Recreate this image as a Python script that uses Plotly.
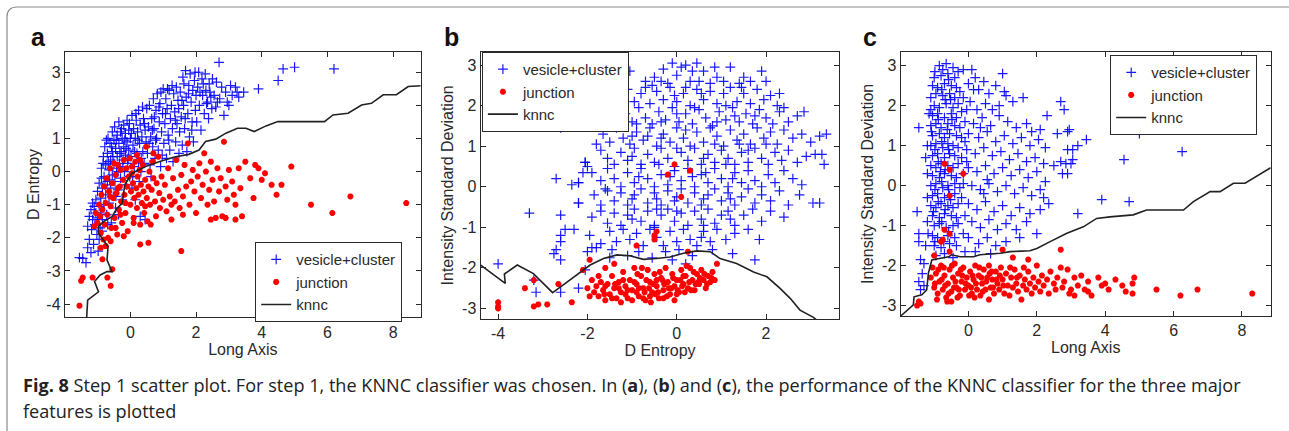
import plotly.graph_objects as go

# ---- panel a : Long Axis vs D Entropy ----
a_vesicle = [
    (-1.55,-2.6),(-1.45,-2.62),(-1.35,-2.75),(-1.3,-2.3),(-1.25,-2.05),(-1.2,-2.45),(-1.18,-1.75),(-1.15,-1.45),
    (-1.12,-2.2),(-1.1,-1.05),(-1.08,-1.6),(-1.05,-1.25),(-1.05,-0.85),(-1.02,-1.9),(-1.0,-0.6),(-1.0,-1.4),
    (-0.98,-2.4),(-0.95,-1.05),(-0.95,-0.35),(-0.92,-1.7),(-0.9,-0.8),(-0.9,-1.25),(-1.25,-1.35),(-1.15,-0.95),
    (-1.3,-1.65),(-1.2,-1.15),(-0.95,-2.05),
    (-0.88,0.1),(-0.85,-0.5),(-0.85,-1.45),(-0.82,0.45),(-0.8,-0.15),(-0.8,-1.0),(-0.78,0.75),(-0.75,0.2),
    (-0.75,-0.7),(-0.72,-1.3),(-0.7,0.55),(-0.7,-0.3),(-0.68,1.0),(-0.65,0.05),(-0.65,-0.95),(-0.62,0.85),
    (-0.6,0.35),(-0.6,-0.5),(-0.58,-1.55),(-0.55,1.2),(-0.55,0.6),(-0.55,-0.1),(-0.52,-0.75),(-0.5,0.95),
    (-0.5,0.25),(-0.88,-0.2),(-0.83,0.25),(-0.77,-0.4),(-0.73,0.95),(-0.67,0.3),(-0.63,-0.25),(-0.57,0.75),
    (-0.53,0.45),(-0.69,-1.6),(-0.86,-1.8),
    (-0.48,1.35),(-0.47,-0.3),(-0.45,0.7),(-0.45,-1.1),(-0.42,0.1),(-0.4,1.1),(-0.4,0.45),(-0.38,-0.55),
    (-0.35,1.5),(-0.35,0.85),(-0.33,0.25),(-0.3,-0.2),(-0.3,1.2),(-0.28,0.6),(-0.25,-0.85),(-0.25,1.0),
    (-0.22,0.35),(-0.2,1.4),(-0.2,0.75),(-0.18,0.0),(-0.15,1.15),(-0.15,0.5),(-0.12,-0.4),(-0.1,0.9),
    (-0.1,1.55),(-0.08,0.25),(-0.05,1.25),(-0.05,0.65),(-0.02,-0.15),(0.0,1.0),(-0.43,0.95),(-0.37,0.0),
    (-0.32,0.55),(-0.27,1.3),(-0.23,0.15),(-0.17,0.95),(-0.13,0.7),(-0.07,0.4),(-0.03,1.45),(-0.44,-0.75),
    (-0.36,-1.3),
    (0.02,0.45),(0.05,1.7),(0.05,-0.5),(0.08,0.8),(0.1,1.3),(0.12,0.15),(0.15,1.0),(0.15,-0.85),(0.18,1.55),
    (0.2,0.55),(0.22,1.2),(0.25,0.3),(0.25,1.85),(0.28,0.85),(0.3,-1.35),(0.3,1.4),(0.32,0.0),(0.35,1.05),
    (0.38,0.6),(0.4,1.6),(0.42,0.25),(0.45,1.25),(0.45,-1.45),(0.48,0.9),(0.5,1.9),(0.03,1.15),(0.13,0.6),
    (0.23,0.95),(0.33,0.4),(0.43,1.45),(0.07,-0.15),(0.17,1.75),(0.37,1.95),(0.27,-0.3),
    (0.52,0.55),(0.55,1.35),(0.58,2.0),(0.6,0.2),(0.62,1.05),(0.65,1.6),(0.68,0.75),(0.7,2.2),(0.72,1.3),
    (0.75,0.4),(0.78,1.85),(0.8,1.0),(0.82,2.35),(0.85,0.65),(0.88,1.5),(0.9,2.05),(0.92,0.15),(0.95,1.2),
    (0.98,1.75),(1.0,2.5),(0.57,0.85),(0.67,1.25),(0.77,0.95),(0.87,1.95),(0.97,0.5),(0.63,-0.15),(0.73,1.65),
    (0.93,2.4),
    (1.02,0.85),(1.05,1.45),(1.08,2.2),(1.1,0.4),(1.12,1.9),(1.15,1.1),(1.18,2.45),(1.2,0.65),(1.22,1.6),
    (1.25,2.0),(1.28,1.3),(1.3,0.3),(1.32,2.35),(1.35,1.8),(1.38,0.9),(1.4,2.55),(1.42,1.45),(1.45,2.15),
    (1.48,0.55),(1.5,1.2),(1.07,1.75),(1.17,0.95),(1.27,2.6),(1.37,1.55),(1.47,1.9),(1.13,2.5),
    (1.52,2.4),(1.55,1.65),(1.58,0.8),(1.6,2.85),(1.62,2.0),(1.65,1.3),(1.68,3.05),(1.7,2.25),(1.72,0.6),
    (1.75,1.75),(1.78,2.6),(1.8,1.05),(1.82,2.95),(1.85,2.1),(1.88,1.5),(1.9,2.45),(1.92,0.9),(1.95,2.75),
    (1.98,1.85),(2.0,2.3),(1.57,2.15),(1.67,1.6),(1.77,2.35),(1.87,1.25),(1.97,3.0),(1.63,2.65),
    (2.02,1.5),(2.05,2.55),(2.08,3.0),(2.1,2.0),(2.15,1.25),(2.18,2.8),(2.2,2.3),(2.25,1.75),(2.28,2.95),
    (2.3,2.45),(2.35,2.1),(2.38,1.6),(2.4,2.65),(2.45,2.25),(2.48,1.9),(2.5,2.8),(2.12,2.4),(2.22,2.65),
    (2.32,2.05),(2.42,2.4),
    (2.55,2.3),(2.6,1.95),(2.62,2.7),(2.7,3.3),(2.72,2.2),(2.78,2.55),(2.85,1.7),(2.9,2.4),(2.95,2.1),
    (3.05,2.6),(3.1,2.3),(3.2,2.55),(3.25,2.4),(3.3,2.25),(3.45,2.4),(2.65,2.1),(3.0,2.0),
    (3.9,2.5),(4.5,2.75),(4.65,3.1),(5.0,3.15),(6.2,3.1),
]
a_junction = [
    (-1.55,-4.05),(-1.5,-3.3),(-1.45,-3.2),(-1.15,-3.2),(-0.7,-3.2),(-0.55,-2.95),(-0.6,-3.45),(-0.85,-2.65),
    (-1.05,-1.25),(-1.0,-1.55),(-0.95,-1.0),(-0.92,-1.35),(-0.9,-1.85),(-0.88,-0.7),(-0.85,-1.15),(-0.82,-2.05),
    (-0.8,-0.45),(-0.78,-1.6),(-0.75,-0.95),(-0.72,-0.2),(-0.7,-1.3),(-0.68,-2.0),(-0.65,-0.6),(-0.62,0.1),
    (-0.6,-1.05),(-0.58,-1.7),(-0.55,-0.35),(-0.52,-0.8),(-0.5,0.25),(-0.48,-1.4),(-0.45,-0.1),(-0.42,-0.65),
    (-0.4,-1.9),(-0.38,0.2),(-0.35,-1.15),(-0.32,-0.45),(-0.3,0.05),(-0.28,-0.9),(-0.25,-1.55),(-0.22,-0.25),
    (-0.2,0.35),(-0.18,-0.7),(-0.15,-1.25),(-0.12,0.1),(-0.1,-0.45),(-0.08,-1.8),(-0.05,-0.15),(-0.02,0.4),
    (0.0,-1.0),(0.02,-0.6),(0.05,0.15),(0.08,-0.35),(0.1,-1.4),(0.12,-0.8),(0.15,0.3),(0.18,-0.5),(0.2,-1.1),
    (0.22,-0.15),(0.25,-0.7),(0.28,0.05),(0.3,-1.6),(0.32,-0.4),(0.35,-0.95),(0.38,0.2),(0.4,-0.6),(0.42,-1.25),
    (0.45,-0.25),(0.48,0.75),(0.5,-0.8),(0.52,-1.5),(0.55,-0.45),(0.58,0.0),(0.6,-1.0),(0.62,-1.6),(0.65,-0.55),
    (0.68,0.3),(0.7,-0.2),(0.75,-0.9),(0.78,-1.35),(0.8,-0.35),(0.85,0.45),(0.88,-0.65),(0.9,-1.1),(0.95,-0.15),
    (1.0,-0.85),(-0.75,-2.25),(-0.6,-2.1),(-0.9,-2.3),(-0.45,-1.7),(-0.2,-1.95),(0.1,-1.55),(-1.1,-1.65),
    (-0.3,-1.3),(0.3,0.35),(0.05,-0.05),(-0.62,-0.75),(-0.38,-0.5),(0.2,0.5),(0.7,0.55),(-0.15,-0.95),(0.45,-1.05),
    (1.05,-0.4),(1.1,-1.2),(1.15,0.1),(1.2,-0.75),(1.25,-1.45),(1.3,-0.2),(1.35,-0.9),(1.4,0.35),(1.45,-0.55),
    (1.5,-1.1),(1.55,-0.1),(1.6,-0.75),(1.65,0.2),(1.7,-0.45),(1.75,0.85),(1.8,-1.0),(1.85,-0.3),(1.9,0.05),
    (1.95,-0.6),(2.0,-1.25),(2.05,-0.15),(2.1,0.25),(2.15,-0.8),(2.2,-0.4),(2.3,0.0),(2.35,-1.0),(2.4,-0.55),
    (2.45,0.3),(2.5,-0.25),(2.55,-0.9),(2.6,-1.4),(2.65,0.1),(2.7,-0.6),(2.75,-0.2),(2.8,-1.35),(2.85,0.9),
    (2.9,-0.45),(2.95,-0.85),(3.0,0.05),(3.1,-0.3),(3.15,-0.7),(3.2,-1.0),(3.3,0.1),(3.35,-0.5),(3.4,-1.35),
    (3.5,0.3),(3.65,-0.2),(3.75,-0.8),(3.8,0.2),(3.9,0.1),(4.0,-0.25),(4.1,-0.05),(4.3,-0.4),(4.45,-0.7),
    (4.6,-0.4),(4.9,0.15),(2.25,0.55),(1.55,-2.4),(0.3,-2.2),(0.55,-2.15),(5.5,-1.0),(6.15,-1.25),(6.7,-0.75),
    (8.4,-0.95),(3.2,-1.45),(2.9,-1.4),(2.45,-1.45),(1.6,-1.3),(1.25,-1.0),
]
a_knnc_x = [-1.33,-1.30,-0.97,-1.09,-0.92,-0.71,-0.56,-0.71,-0.68,-0.82,-0.97,-0.97,-0.82,-0.56,-0.41,-0.25,
            -0.20,-0.17,0.05,0.46,0.87,1.38,1.78,2.09,2.29,2.60,2.91,3.26,3.52,3.77,4.13,4.49,5.91,6.17,
            6.63,7.04,7.34,7.70,8.10,8.46,8.84]
a_knnc_y = [-4.4,-3.88,-3.63,-3.32,-3.12,-3.02,-3.02,-2.67,-2.27,-2.06,-1.86,-1.66,-1.51,-1.36,-1.11,-0.96,
            -0.65,-0.40,-0.05,0.15,0.30,0.45,0.52,0.65,0.91,0.98,1.16,1.31,1.31,1.21,1.38,1.51,1.51,1.71,
            1.76,2.01,2.06,2.32,2.32,2.57,2.59]

# ---- panel b : D Entropy vs Intensity Standard Deviation ----
b_vesicle = [
    (-2.6,1.45),(-3.3,-0.65),(-2.7,0.2),(-2.6,-0.7),(-2.5,-1.05),(-2.6,-1.2),(-2.6,-1.35),(-2.7,-1.55),
    (-2.6,-1.8),(-2.6,-2.6),(-2.75,-1.65),(-4.0,-1.9),(-3.2,-2.3),(-3.15,-2.6),(-2.3,-1.05),(-2.2,-0.4),
    (-2.2,0.1),(-2.1,0.35),(-2.05,0.6),(-2.0,0.5),(-1.9,-1.5),(-2.0,-1.6),(-1.8,-1.5),(-2.2,-2.5),(-2.35,0.05),
    (-1.95,-1.2),(-2.05,-2.05),
    (-0.5,2.7),(-0.3,2.9),(-0.1,3.05),(0.0,2.75),(0.1,2.95),(0.2,3.0),(0.35,2.85),(0.5,2.6),(0.6,2.85),
    (0.75,2.55),(0.9,2.7),(1.05,2.6),(1.2,2.95),(1.4,2.55),(1.65,2.6),(1.9,2.85),(2.0,2.6),(-0.7,2.6),
    (-0.55,2.5),(-1.05,2.85),(-0.2,2.55),(0.3,2.6),(0.45,3.05),(-0.35,2.6),(0.85,2.95),(1.5,2.7),
    (-1.3,2.15),(-1.1,2.4),(-0.95,2.1),(-0.8,2.3),(-0.6,2.05),(-0.45,2.35),(-0.3,2.15),(-0.15,2.45),(0.0,2.1),
    (0.15,2.3),(0.3,2.0),(0.45,2.4),(0.6,2.15),(0.75,2.35),(0.9,2.05),(1.05,2.3),(1.2,2.45),(1.35,2.1),
    (1.5,2.3),(1.65,2.05),(1.8,2.4),(1.95,2.15),(2.1,2.25),(2.25,2.0),(-0.7,2.45),(0.2,2.45),(1.1,2.0),
    (-1.5,2.3),(-0.05,2.25),(0.55,2.3),(1.45,2.45),(2.3,2.3),
    (-1.6,1.7),(-1.45,1.9),(-1.3,1.55),(-1.15,1.8),(-1.0,1.6),(-0.85,1.95),(-0.7,1.7),(-0.55,1.55),(-0.4,1.85),
    (-0.25,1.65),(-0.1,1.95),(0.05,1.6),(0.2,1.8),(0.35,1.55),(0.5,1.9),(0.65,1.7),(0.8,1.5),(0.95,1.85),
    (1.1,1.65),(1.25,1.95),(1.4,1.6),(1.55,1.8),(1.7,1.55),(1.85,1.9),(2.0,1.7),(2.15,1.55),(2.3,1.85),
    (2.5,1.6),(2.7,1.75),(2.85,1.85),(-0.9,1.55),(0.0,1.8),(0.9,1.6),(1.75,1.75),(-0.35,1.6),(0.4,1.95),
    (1.3,1.75),(2.4,1.95),
    (-1.8,1.05),(-1.65,1.3),(-1.5,1.1),(-1.35,1.45),(-1.2,1.2),(-1.05,1.05),(-0.9,1.35),(-0.75,1.15),(-0.6,1.45),
    (-0.45,1.0),(-0.3,1.3),(-0.15,1.1),(0.0,1.45),(0.15,1.2),(0.3,1.0),(0.45,1.35),(0.6,1.1),(0.75,1.45),
    (0.9,1.25),(1.05,1.0),(1.2,1.4),(1.35,1.15),(1.5,1.3),(1.65,1.05),(1.8,1.45),(1.95,1.2),(2.1,1.35),
    (2.25,1.05),(2.4,1.4),(2.6,1.2),(2.8,1.3),(3.0,1.1),(3.2,1.25),(-1.0,1.25),(0.2,1.4),(1.4,1.05),
    (-0.35,1.2),(0.85,1.05),(2.0,1.05),(-0.65,1.25),
    (-2.05,0.6),(-1.7,0.9),(-1.55,0.7),(-1.4,0.55),(-1.25,0.85),(-1.1,0.65),(-0.95,0.95),(-0.8,0.55),
    (-0.65,0.8),(-0.5,0.6),(-0.35,0.95),(-0.2,0.7),(-0.05,0.5),(0.1,0.85),(0.25,0.65),(0.4,0.95),(0.55,0.55),
    (0.7,0.8),(0.85,0.6),(1.0,0.9),(1.15,0.7),(1.3,0.55),(1.45,0.85),(1.6,0.6),(1.75,0.95),(1.9,0.7),
    (2.05,0.55),(2.2,0.85),(2.35,0.65),(2.5,0.9),(2.7,0.6),(2.9,0.75),(3.1,0.8),(3.3,0.55),(-1.0,0.75),
    (0.0,0.95),(1.1,0.55),(-0.4,0.55),(0.6,0.7),(1.6,0.9),
    (-2.2,0.1),(-1.9,0.35),(-1.7,0.15),(-1.55,0.45),(-1.4,0.2),(-1.25,0.0),(-1.1,0.35),(-0.95,0.1),(-0.8,0.45),
    (-0.65,0.2),(-0.5,0.0),(-0.35,0.3),(-0.2,0.05),(-0.05,0.4),(0.1,0.15),(0.25,0.45),(0.4,0.0),(0.55,0.3),
    (0.7,0.1),(0.85,0.45),(1.0,0.2),(1.15,0.0),(1.3,0.35),(1.45,0.1),(1.6,0.4),(1.75,0.15),(1.9,0.0),
    (2.05,0.3),(2.2,0.1),(2.4,0.4),(2.6,0.2),(2.8,0.05),(-1.6,-0.05),(-0.15,0.25),(0.65,0.35),(1.25,0.2),
    (-0.85,0.25),(0.35,0.25),
    (-2.2,-0.4),(-1.85,-0.2),(-1.7,-0.45),(-1.55,-0.1),(-1.4,-0.35),(-1.25,-0.15),(-1.1,-0.45),(-0.95,-0.2),
    (-0.8,-0.05),(-0.65,-0.4),(-0.5,-0.15),(-0.35,-0.45),(-0.2,-0.1),(-0.05,-0.35),(0.1,-0.05),(0.25,-0.4),
    (0.4,-0.15),(0.55,-0.45),(0.7,-0.2),(0.85,-0.05),(1.0,-0.35),(1.15,-0.15),(1.3,-0.45),(1.45,-0.25),
    (1.6,-0.05),(1.75,-0.4),(1.9,-0.2),(2.1,-0.35),(2.3,-0.1),(2.5,-0.45),(2.75,-0.2),(3.05,-0.4),(3.2,-0.4),
    (-1.0,-0.3),(0.0,-0.25),(0.6,-0.3),(1.2,-0.3),(-0.45,-0.3),
    (-1.9,-0.75),(-1.7,-0.6),(-1.55,-0.9),(-1.4,-0.65),(-1.25,-0.95),(-1.1,-0.7),(-0.95,-0.55),(-0.8,-0.85),
    (-0.65,-0.6),(-0.5,-0.95),(-0.35,-0.7),(-0.2,-0.55),(-0.05,-0.85),(0.1,-0.65),(0.25,-0.95),(0.4,-0.6),
    (0.55,-0.8),(0.7,-0.55),(0.85,-0.9),(1.0,-0.7),(1.15,-0.6),(1.3,-0.95),(1.5,-0.7),(1.7,-0.55),(1.9,-0.85),
    (2.1,-0.6),(2.4,-0.75),(-1.0,-0.8),(0.0,-0.6),(0.6,-0.95),(-0.45,-0.55),(1.2,-0.8),
    (-1.7,-1.4),(-1.5,-1.1),(-1.35,-1.35),(-1.2,-1.05),(-1.05,-1.3),(-0.9,-1.15),(-0.75,-1.45),(-0.6,-1.05),
    (-0.45,-1.25),(-0.3,-1.45),(-0.15,-1.1),(0.0,-1.35),(0.15,-1.05),(0.3,-1.3),(0.45,-1.45),(0.6,-1.1),
    (0.75,-1.35),(0.9,-1.05),(1.1,-1.3),(1.3,-1.15),(1.6,-1.05),(1.85,-1.3),(-0.5,-1.0),(0.55,-1.25),
    (-1.45,-1.55),(-1.1,-1.7),(-0.85,-1.6),(-0.55,-1.75),(-0.25,-1.6),(0.05,-1.55),(0.35,-1.7),(0.8,-1.55),
    (1.25,-1.65),(1.75,-1.8),(-1.5,-1.75),(-0.1,-1.8),(0.2,-1.9),(3.35,1.3),(3.25,0.8),
]
b_junction = [
    (-4.0,-2.85),(-4.0,-2.95),(-4.0,-3.0),(-3.4,-2.5),(-3.2,-2.95),(-3.1,-2.9),(-2.9,-2.9),(-3.2,-2.3),
    (-2.65,-2.4),(-2.35,-2.85),(-2.1,-2.05),(-1.95,-1.8),(-0.9,-1.45),(-0.45,-1.1),(-0.5,-1.2),(-0.5,-1.3),
    (-0.2,0.3),(-0.05,0.55),(0.3,0.4),(0.1,-0.25),(0.9,-1.9),(0.25,-1.6),(-1.6,-2.0),(-1.4,-1.9),
    (-2.0,-2.5),(-1.9,-2.3),(-1.85,-2.6),(-1.8,-2.45),(-1.75,-2.7),(-1.7,-2.35),(-1.65,-2.55),(-1.6,-2.8),
    (-1.55,-2.4),(-1.5,-2.65),(-1.45,-2.2),(-1.4,-2.5),(-1.35,-2.75),(-1.3,-2.35),(-1.25,-2.6),(-1.2,-2.1),
    (-1.15,-2.45),(-1.1,-2.75),(-1.05,-2.3),(-1.0,-2.55),(-0.95,-2.0),(-0.9,-2.4),(-0.85,-2.7),(-0.8,-2.2),
    (-0.75,-2.5),(-0.7,-2.8),(-0.65,-2.05),(-0.6,-2.35),(-0.55,-2.6),(-0.5,-2.15),(-0.45,-2.45),(-0.4,-2.75),
    (-0.35,-2.25),(-0.3,-2.55),(-0.25,-2.0),(-0.2,-2.35),(-0.15,-2.65),(-0.1,-2.15),(-0.05,-2.45),(0.0,-2.3),
    (0.05,-2.6),(0.1,-2.05),(0.15,-2.4),(0.2,-2.2),(0.25,-2.5),(0.3,-2.0),(0.35,-2.3),(0.4,-2.55),(0.45,-2.15),
    (0.5,-2.4),(0.55,-2.05),(0.6,-2.3),(0.65,-2.5),(0.7,-2.2),(0.75,-2.35),(0.8,-2.1),(0.85,-2.3),
    (-1.95,-2.7),(-1.75,-2.2),(-1.6,-2.45),(-1.45,-2.75),(-1.3,-2.5),(-1.2,-2.3),(-1.1,-2.55),(-1.0,-2.8),
    (-0.95,-2.35),(-0.85,-2.5),(-0.78,-2.0),(-0.72,-2.6),(-0.62,-2.5),(-0.58,-2.85),(-0.52,-2.4),(-0.42,-2.6),
    (-0.38,-2.1),(-0.28,-2.4),(-0.22,-2.7),(-0.12,-2.5),(-0.08,-2.25),(0.02,-2.55),(0.08,-2.3),(0.18,-2.6),
    (0.22,-1.95),(0.28,-2.35),(0.38,-2.1),(0.42,-2.4),(0.52,-2.25),(0.62,-2.15),(0.68,-2.4),(0.78,-2.25),
    (-1.15,-2.65),(-0.88,-2.15),(-0.68,-2.3),(-0.48,-2.65),(-0.32,-2.3),(-0.18,-2.5),(0.12,-2.45),(0.32,-2.55),
    (-1.62,-2.65),(-1.38,-2.4),(-0.9,-2.6),(-0.6,-2.7),(-0.3,-2.75),(0.0,-2.65),(-1.25,-2.85),(-0.75,-2.75),
    (-0.05,-2.8),(-0.45,-2.3),(0.48,-2.35),(0.15,-2.2),
]
b_knnc_x = [-4.39,-3.84,-3.86,-3.57,-3.21,-2.78,-2.54,-2.24,-1.94,-1.64,-1.34,-1.05,-0.75,-0.45,-0.15,0.15,
            0.45,0.75,0.97,1.34,1.72,2.02,2.32,2.54,2.76,3.06,3.14]
b_knnc_y = [-1.93,-2.38,-2.15,-1.93,-2.14,-2.61,-2.42,-2.18,-1.93,-1.77,-1.68,-1.70,-1.79,-1.77,-1.73,-1.64,
            -1.58,-1.60,-1.77,-1.89,-2.10,-2.22,-2.51,-2.75,-3.04,-3.22,-3.29]

# ---- panel c : Long Axis vs Intensity Standard Deviation ----
c_vesicle = [
    (-1.45,1.45),(-1.5,-0.65),(-1.45,-1.2),(-1.45,-1.4),(-1.4,-1.85),(-1.45,-2.4),(-1.4,-2.6),(-1.35,-2.2),
    (-1.3,-2.5),(-1.3,-1.95),(-1.25,-1.5),(-1.2,-0.9),(-1.2,0.3),(-1.2,1.0),(-1.25,0.7),(-1.2,-0.3),
    (-1.15,1.8),(-1.18,-1.2),
    (-0.85,3.0),(-0.65,3.05),(-0.45,2.95),(-0.75,2.9),(-1.0,2.7),(-0.8,2.75),(-0.6,2.8),(-0.4,2.7),(-0.3,2.85),
    (-1.05,2.5),(-0.9,2.45),(-0.7,2.55),(-0.5,2.5),(-0.35,2.45),(-1.1,2.2),(-0.95,2.3),(-0.75,2.25),
    (-0.55,2.3),(-0.4,2.2),(-0.25,2.35),(-1.0,2.0),(-0.85,1.95),(-0.65,2.05),(-0.45,1.95),(-0.3,2.05),
    (-1.1,1.9),(-1.05,1.75),(-0.9,1.8),(-0.7,1.7),(-0.5,1.8),(-0.35,1.7),(-0.2,1.85),(-1.1,1.5),(-0.95,1.55),
    (-0.8,1.45),(-0.6,1.55),(-0.4,1.5),(-0.25,1.45),(-1.05,1.25),(-0.85,1.3),(-0.7,1.2),(-0.55,1.3),
    (-0.35,1.25),(-0.2,1.2),(-1.1,1.0),(-0.95,1.05),(-0.75,0.95),(-0.6,1.05),(-0.45,1.0),(-0.3,0.95),
    (-1.05,0.75),(-0.9,0.8),(-0.7,0.7),(-0.55,0.8),(-0.4,0.75),(-0.2,0.7),(-1.1,0.5),(-0.95,0.45),(-0.8,0.55),
    (-0.6,0.5),(-0.45,0.45),(-0.3,0.55),(-1.05,0.25),(-0.85,0.2),(-0.7,0.3),(-0.5,0.25),(-0.35,0.2),
    (-0.15,0.3),(-1.1,0.0),(-0.95,0.05),(-0.75,-0.05),(-0.6,0.0),(-0.4,0.05),(-0.25,-0.05),(-1.05,-0.25),
    (-0.9,-0.2),(-0.7,-0.3),(-0.55,-0.25),(-0.4,-0.2),(-0.2,-0.3),(-1.1,-0.5),(-0.95,-0.55),(-0.8,-0.45),
    (-0.6,-0.5),(-0.45,-0.55),(-0.3,-0.45),(-1.05,-0.75),(-0.85,-0.8),(-0.7,-0.7),(-0.5,-0.75),(-0.35,-0.8),
    (-1.0,-1.0),(-0.85,-0.95),(-0.65,-1.05),(-0.45,-1.0),(-0.3,-0.95),(-1.05,-1.25),(-0.9,-1.3),(-0.6,-1.25),
    (-0.4,-1.3),(-1.0,-1.5),(-0.8,-1.55),(-0.55,-1.45),(-0.35,-1.5),(-0.95,-1.75),(-0.7,-1.7),(-0.45,-1.8),
    (-0.98,2.85),(-0.58,2.65),(-0.78,2.4),(-0.68,2.15),(-0.88,1.65),(-0.48,1.65),(-0.78,1.1),(-0.98,0.9),
    (-0.58,0.9),(-0.88,0.6),(-0.68,0.4),(-0.78,0.1),(-0.98,-0.1),(-0.58,-0.1),(-0.88,-0.4),(-0.68,-0.6),
    (-0.78,-0.9),(-0.58,-1.15),(-0.98,-1.4),(-0.72,-1.4),(-0.52,2.15),(-0.62,1.4),(-0.82,0.35),(-0.52,-0.35),
    (-1.08,1.35),(-1.02,-0.65),
    (-0.15,2.9),(0.1,2.9),(0.0,2.55),(0.2,2.7),(0.3,2.4),(0.45,2.6),(0.6,2.3),(0.8,2.5),(1.0,2.8),(1.05,2.35),
    (1.1,2.25),(1.3,2.1),(1.6,2.2),(0.9,2.0),(0.7,1.9),(0.5,2.05),(0.25,1.9),(0.05,2.1),(-0.1,1.6),(0.15,1.55),
    (0.4,1.7),(0.65,1.5),(0.9,1.75),(1.15,1.6),(1.4,1.45),(1.7,1.55),(1.85,1.35),(2.1,1.4),(2.3,1.75),
    (0.0,1.3),(0.3,1.2),(0.55,1.35),(0.8,1.1),(1.05,1.25),(1.3,1.05),(1.55,1.2),(1.8,1.0),(2.05,1.15),
    (2.25,0.95),(2.6,1.3),(2.9,1.35),(-0.05,0.9),(0.2,0.8),(0.45,0.95),(0.7,0.75),(0.95,0.85),(1.2,0.65),
    (1.45,0.8),(1.7,0.6),(1.95,0.7),(2.2,0.55),(2.5,0.5),(2.7,0.6),(2.9,0.9),(3.0,0.55),(0.0,0.45),(0.25,0.35),
    (0.5,0.5),(0.75,0.3),(1.0,0.45),(1.25,0.25),(1.5,0.4),(1.75,0.2),(2.0,0.35),(2.25,0.1),(2.75,0.3),
    (0.1,0.0),(0.35,-0.1),(0.6,0.05),(0.85,-0.15),(1.1,0.0),(1.35,-0.2),(1.6,-0.05),(1.85,-0.25),(2.1,-0.1),
    (2.35,-0.45),(2.2,-0.3),(0.0,-0.45),(0.25,-0.6),(0.5,-0.4),(0.75,-0.65),(1.0,-0.5),(1.25,-0.75),
    (1.5,-0.55),(1.8,-0.7),(2.1,-0.6),(0.1,-0.9),(0.35,-1.05),(0.6,-0.85),(0.85,-1.1),(1.1,-0.95),(1.4,-1.1),
    (1.7,-0.9),(2.0,-1.2),(0.0,-1.3),(0.3,-1.45),(0.55,-1.3),(0.8,-1.5),(1.1,-1.4),(1.5,-1.3),(0.2,-1.65),
    (0.65,-1.7),(-0.1,-1.65),(-0.15,-1.2),(-0.1,-0.75),(-0.15,0.05),(-0.05,0.6),(-0.1,1.1),(-0.15,2.2),
    (-0.05,1.9),(0.15,2.4),(0.35,1.45),(0.55,0.15),(0.45,-0.2),
    (2.7,2.1),(2.8,1.9),(2.95,1.4),(3.2,1.0),(3.45,1.15),(3.05,0.9),(3.05,0.65),(2.9,0.3),(3.2,-0.7),
    (3.9,-0.35),(4.55,0.65),(4.7,-0.4),(5.0,1.3),(6.25,0.85),(2.85,0.55),
]
c_junction = [
    (-0.7,0.55),(-0.55,0.4),(-0.15,0.3),(-0.55,-0.25),(-0.7,-1.1),(-0.55,-1.2),(-0.8,-1.4),(-0.75,-1.35),
    (-0.55,-1.65),(-1.45,-2.9),(-1.5,-3.0),(-1.4,-2.95),(2.7,-1.6),(1.0,-1.6),(1.3,-1.8),(1.75,-1.85),(-1.0,-1.75),
    (-1.1,-2.3),(-1.05,-2.05),(-1.0,-2.55),(-0.95,-2.2),(-0.9,-2.7),(-0.85,-2.4),(-0.8,-2.0),(-0.75,-2.6),
    (-0.7,-2.25),(-0.65,-2.8),(-0.6,-2.45),(-0.55,-2.1),(-0.5,-2.65),(-0.45,-2.3),(-0.4,-1.95),(-0.35,-2.55),
    (-0.3,-2.2),(-0.25,-2.75),(-0.2,-2.4),(-0.15,-2.05),(-0.1,-2.6),(-0.05,-2.3),(0.0,-2.5),(0.05,-2.15),
    (0.1,-2.7),(0.15,-2.35),(0.2,-2.0),(0.25,-2.6),(0.3,-2.25),(0.35,-2.75),(0.4,-2.45),(0.45,-2.1),(0.5,-2.6),
    (0.55,-2.3),(0.6,-2.0),(0.65,-2.55),(0.7,-2.35),(0.75,-2.7),(0.8,-2.15),(0.85,-2.45),(0.9,-2.6),
    (0.95,-2.05),(1.0,-2.35),(1.05,-2.7),(1.1,-2.2),(1.15,-2.5),(1.2,-2.75),(1.25,-2.3),(1.3,-2.55),
    (1.35,-2.1),(1.4,-2.45),(1.45,-2.65),(1.5,-2.25),(1.55,-2.85),(1.6,-2.5),(1.65,-2.35),(1.7,-2.6),
    (1.75,-2.15),(1.8,-2.45),(1.85,-2.7),(1.9,-2.3),(1.95,-2.55),(2.0,-2.0),(2.05,-2.4),(2.1,-2.65),
    (2.15,-2.25),(2.2,-2.5),(2.3,-2.35),(2.35,-2.7),(2.4,-2.15),(2.5,-2.45),(2.55,-2.6),(2.6,-2.3),(2.7,-2.05),
    (2.75,-2.55),(2.8,-2.4),(2.9,-2.1),(2.95,-2.7),(3.0,-2.6),(3.1,-2.3),(3.2,-2.5),(3.3,-2.25),(3.4,-2.6),
    (3.5,-2.4),(3.6,-2.75),(3.8,-2.3),(3.9,-2.5),(4.0,-2.45),(4.1,-2.6),(4.3,-2.35),(4.5,-2.5),(4.6,-2.65),
    (4.8,-2.45),(4.85,-2.3),(4.8,-2.7),(5.5,-2.6),(6.2,-2.75),(6.7,-2.6),(8.3,-2.7),(3.5,-2.65),(3.1,-2.75),
    (-0.98,-2.45),(-0.88,-2.1),(-0.78,-2.35),(-0.68,-2.5),(-0.58,-2.7),(-0.48,-2.0),(-0.38,-2.4),(-0.28,-2.6),
    (-0.18,-2.25),(-0.08,-2.45),(0.02,-2.75),(0.12,-2.25),(0.22,-2.45),(0.32,-2.05),(0.42,-2.65),(0.52,-2.4),
    (0.62,-2.2),(0.72,-2.55),(0.82,-2.35),(0.92,-2.25),(-0.92,-2.85),(-0.62,-2.9),(-0.42,-2.55),(-0.22,-2.1),
    (0.08,-2.55),(0.38,-2.3),(0.68,-2.15),(-0.72,-2.05),(-0.32,-2.8),(0.18,-2.8),(1.02,-2.5),(1.22,-2.05),
    (1.42,-2.3),(1.62,-2.05),(-0.5,-2.9),(0.6,-2.85),
]
c_knnc_x = [-1.98,-1.61,-1.59,-1.36,-1.22,-1.17,-1.07,-0.83,-0.58,-0.49,-0.24,0.15,0.34,0.93,1.22,1.80,2.00,
            2.39,2.88,3.36,3.75,4.14,4.82,5.21,6.29,6.58,7.07,7.36,7.75,8.09,8.48,8.84]
c_knnc_y = [-3.26,-2.98,-2.78,-2.73,-2.61,-2.19,-1.86,-1.82,-1.78,-1.73,-1.78,-1.78,-1.73,-1.69,-1.65,-1.63,
            -1.57,-1.40,-1.19,-1.03,-0.82,-0.78,-0.73,-0.61,-0.61,-0.40,-0.15,-0.15,0.06,0.06,0.27,0.45]

# tick labels (MATLAB style, plain hyphen)
long_ticks = [0, 2, 4, 6, 8]
dent_ticks = [-4, -2, 0, 2]
a_yticks = [-4, -3, -2, -1, 0, 1, 2, 3]
isd_ticks = [-3, -2, -1, 0, 1, 2, 3]

W, H = 1289, 431
FONT = "Arial, Liberation Sans, sans-serif"
INK = "#2a2a2a"

fig = go.Figure()

panels = [
    ("x", "y", "legend", a_vesicle, a_junction, a_knnc_x, a_knnc_y),
    ("x2", "y2", "legend2", b_vesicle, b_junction, b_knnc_x, b_knnc_y),
    ("x3", "y3", "legend3", c_vesicle, c_junction, c_knnc_x, c_knnc_y),
]
for xa, ya, lg, ves, jun, kx, ky in panels:
    vx, vy = zip(*ves)
    jx, jy = zip(*jun)
    fig.add_trace(go.Scatter(x=vx, y=vy, mode="markers", name="vesicle+cluster", xaxis=xa, yaxis=ya,
                             legend=lg,
                             marker=dict(symbol="cross-thin", size=7, color="blue",
                                         line=dict(color="rgba(0,0,255,0.9)", width=1.2))))
    fig.add_trace(go.Scatter(x=jx, y=jy, mode="markers", name="junction", xaxis=xa, yaxis=ya,
                             legend=lg,
                             marker=dict(symbol="asterisk", size=5, color="red",
                                         line=dict(color="red", width=2))))
    fig.add_trace(go.Scatter(x=kx, y=ky, mode="lines", name="knnc", xaxis=xa, yaxis=ya, legend=lg,
                             line=dict(color="#222222", width=1.6)))


def px_x(p):
    return p / W


def px_y(p):
    return 1 - p / H


def ticks(vals):
    return dict(tickvals=vals, ticktext=[str(v) for v in vals])


axis_common = dict(showline=True, linecolor=INK, linewidth=1.4, mirror="ticks", ticks="inside",
                   ticklen=5, tickcolor=INK, showgrid=False, zeroline=False,
                   tickfont=dict(family=FONT, size=16, color=INK))
title_font = dict(family=FONT, size=16, color=INK)

fig.update_layout(
    width=W, height=H,
    margin=dict(l=0, r=0, t=0, b=0),
    paper_bgcolor="white", plot_bgcolor="white",
    font=dict(family=FONT, color=INK),
    xaxis=dict(axis_common, **ticks(long_ticks), domain=[px_x(65), px_x(420.7)], range=[-1.99, 8.84],
               title=dict(text="Long Axis", font=title_font, standoff=2), anchor="y"),
    yaxis=dict(axis_common, **ticks(a_yticks), domain=[px_y(317.3), px_y(51.7)], range=[-4.4, 3.62],
               title=dict(text="D Entropy", font=title_font, standoff=2), anchor="x"),
    xaxis2=dict(axis_common, **ticks(dent_ticks), domain=[px_x(480.7), px_x(839.3)], range=[-4.39, 3.64],
                title=dict(text="D Entropy", font=title_font, standoff=2), anchor="y2"),
    yaxis2=dict(axis_common, **ticks(isd_ticks), domain=[px_y(319), px_y(51.7)], range=[-3.26, 3.33],
                title=dict(text="Intensity Standard Deviation", font=title_font, standoff=4), anchor="x2"),
    xaxis3=dict(axis_common, **ticks(long_ticks), domain=[px_x(900.7), px_x(1270.7)], range=[-1.98, 8.84],
                title=dict(text="Long Axis", font=title_font, standoff=2), anchor="y3"),
    yaxis3=dict(axis_common, **ticks(isd_ticks), domain=[px_y(316), px_y(51.7)], range=[-3.26, 3.35],
                title=dict(text="Intensity Standard Deviation", font=title_font, standoff=4), anchor="x3"),
)

leg_common = dict(bgcolor="white", bordercolor=INK, borderwidth=1.2, itemwidth=30,
                  font=dict(family=FONT, size=15, color=INK), xanchor="left", yanchor="top",
                  tracegroupgap=0)
fig.update_layout(
    legend=dict(leg_common, x=px_x(255), y=px_y(242)),
    legend2=dict(leg_common, x=px_x(481.7), y=px_y(51.7)),
    legend3=dict(leg_common, x=px_x(1110), y=px_y(55)),
)

# panel letters
for letter, xp in [("a", 38), ("b", 451), ("c", 870)]:
    fig.add_annotation(text="<b>%s</b>" % letter, x=px_x(xp), y=px_y(37), xref="paper", yref="paper",
                       showarrow=False, font=dict(family=FONT, size=25, color="#111"),
                       xanchor="center", yanchor="middle")

# caption
cap_font = dict(family="Open Sans, Noto Sans, sans-serif", size=18.1, color="#222")
fig.add_annotation(text="<b>Fig. 8</b> Step 1 scatter plot. For step 1, the KNNC classifier was chosen. "
                        "In (<b>a</b>), (<b>b</b>) and (<b>c</b>), the performance of the KNNC classifier "
                        "for the three major",
                   x=px_x(21), y=px_y(385), xref="paper", yref="paper", showarrow=False,
                   xanchor="left", yanchor="middle", font=cap_font)
fig.add_annotation(text="features is plotted", x=px_x(21), y=px_y(411), xref="paper", yref="paper",
                   showarrow=False, xanchor="left", yanchor="middle", font=cap_font)

# rounded outer frame (top-left corner of the figure box)
fig.add_shape(type="path", xref="paper", yref="paper",
              path="M %f,0 L %f,%f Q %f,%f %f,%f L 1,%f" % (
                  px_x(7), px_x(7), px_y(17), px_x(7), px_y(7), px_x(17), px_y(7), px_y(7)),
              line=dict(color="#8a8a8a", width=1.2))

fig.write_html("out.html", config={"displayModeBar": False},
               post_script="document.body.style.margin = '0';")
